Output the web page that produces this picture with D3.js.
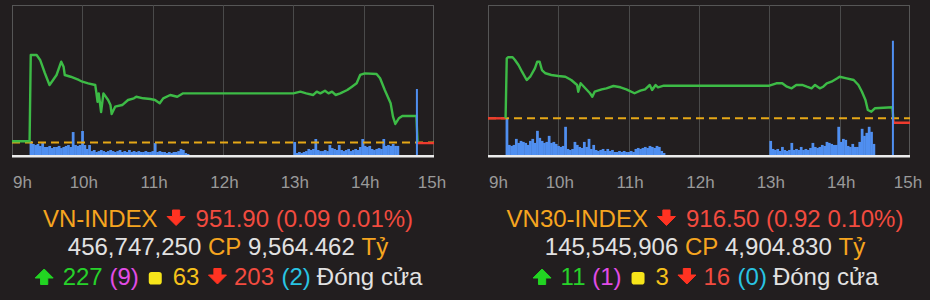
<!DOCTYPE html>
<html><head><meta charset="utf-8">
<script src="https://cdn.jsdelivr.net/npm/d3@7"></script>
<style>
html,body{margin:0;padding:0;background:#221e1f;}
svg{display:block;}
text{font-family:"Liberation Sans",Arial,Helvetica,sans-serif;}
</style></head><body>
<svg id="c" width="930" height="300"></svg>
<script>
// ---------- DATA ----------
const hourLabels = ["9h","10h","11h","12h","13h","14h","15h"];

// VN-INDEX intraday
const vnRef = 951.99;
const vnTimes = ["09:00","09:15","09:16","09:21","09:24","09:28","09:32","09:34","09:38","09:41","09:42","09:44","09:45","09:50","09:57","10:00","10:05","10:11","10:12","10:13","10:14","10:16","10:18","10:22","10:24","10:25","10:28","10:34","10:39","10:44","10:46","10:52","10:58","11:02","11:06","11:09","11:15","11:21","11:26","11:30","13:00","13:06","13:11","13:17","13:20","13:23","13:27","13:30","13:33","13:36","13:40","13:46","13:50","13:54","13:57","14:01","14:11","14:14","14:18","14:23","14:25","14:27","14:30","14:33","14:45","14:46","15:00"];
const vnValues = [952.15,952.15,963.58,963.58,962.92,961.19,959.60,960.04,960.93,962.25,962.69,962.03,960.93,960.70,960.27,960.04,959.83,959.60,958.54,957.39,958.50,956.03,958.50,957.62,956.95,955.76,956.73,956.95,957.62,957.84,958.05,957.84,957.75,957.62,957.18,957.84,958.28,958.05,958.50,958.50,958.50,958.72,958.50,958.28,958.72,958.50,958.85,958.50,958.72,958.28,958.50,958.94,959.38,959.83,960.93,961.15,961.06,960.49,958.94,957.18,955.41,954.44,955.19,955.50,955.50,951.90,951.90];
// volume, million shares per 2-minute bucket
const volStep = 2;
const volAMStart = "09:15";
const volPMStart = "13:00";
const closeVolTime = "14:45";
const vnVolAM = [9.3,7.3,6.6,7.3,6.0,7.9,5.3,5.3,6.0,4.6,5.3,5.3,6.0,4.6,5.3,6.0,6.6,5.3,15.2,6.6,6.0,6.6,15.9,6.6,4.0,6.6,2.6,3.3,2.0,2.6,3.3,2.6,2.0,2.6,3.3,2.6,2.0,2.6,3.3,2.0,2.6,2.0,3.3,2.0,2.6,2.0,2.6,2.0,2.0,2.6,2.0,2.0,2.6,7.9,2.0,2.6,2.0,2.0,1.3,2.0,1.3,2.0,2.0,2.6,4.0,3.3,1.3,0.7];
const vnVolPM = [8.6,1.3,2.0,1.3,2.0,2.6,4.0,3.3,4.0,10.6,3.3,2.6,2.6,3.3,2.6,6.6,4.6,4.0,3.3,6.6,3.3,2.6,3.3,4.0,2.6,3.3,4.0,3.3,5.3,10.6,6.0,5.3,6.0,4.0,3.3,4.0,4.6,4.0,10.6,6.0,6.6,6.0,7.3,6.0,6.0];
const vnVolClose = 43.7;

// VN30-INDEX intraday
const vn30Ref = 917.42;
const vn30Times = ["09:00","09:15","09:16","09:17","09:21","09:23","09:26","09:29","09:33","09:36","09:40","09:42","09:44","09:46","09:49","09:54","10:00","10:06","10:11","10:16","10:17","10:19","10:23","10:27","10:29","10:31","10:37","10:41","10:47","10:53","10:58","11:05","11:10","11:14","11:18","11:20","11:23","11:25","11:30","13:00","13:06","13:11","13:15","13:19","13:23","13:28","13:32","13:36","13:39","13:43","13:46","13:49","13:53","13:58","14:00","14:06","14:12","14:16","14:19","14:22","14:24","14:27","14:30","14:45","14:46","15:00"];
const vn30Values = [917.42,917.42,929.96,930.17,930.17,929.60,928.56,927.16,925.42,926.11,927.87,929.25,929.25,927.51,926.83,926.47,926.26,926.11,925.42,924.38,922.98,924.74,923.69,922.65,921.93,922.98,923.48,923.69,924.17,923.90,923.48,922.65,923.19,923.48,924.38,923.33,924.38,923.90,924.23,924.23,924.74,924.74,924.02,923.69,924.38,924.38,924.02,923.69,924.38,923.69,924.02,924.74,925.07,925.78,926.11,925.78,925.42,924.38,922.98,921.24,919.15,918.80,919.51,919.72,916.50,916.50];
const vn30VolAM = [7.2,2.0,1.8,2.0,3.2,2.4,2.8,2.6,2.4,2.0,2.8,3.2,2.4,4.8,3.4,2.8,2.4,2.6,3.8,2.4,2.6,2.2,1.8,1.6,1.8,5.6,1.2,1.0,1.2,2.6,2.0,1.6,1.4,2.6,1.6,3.2,1.2,2.0,1.0,0.8,1.0,1.2,0.8,1.2,0.8,1.0,0.6,0.6,0.8,0.6,0.8,0.6,0.6,0.8,0.6,1.2,1.4,1.2,1.4,1.6,1.4,1.8,1.6,1.4,1.8,1.6,0.8,0.4];
const vn30VolPM = [2.8,1.2,1.0,1.2,0.8,1.6,1.0,0.8,1.0,2.4,1.0,1.2,1.0,1.6,1.0,1.2,1.0,1.4,2.4,1.6,1.4,1.6,2.0,1.8,2.6,2.4,2.2,2.0,2.0,5.6,2.6,3.2,3.0,1.8,1.6,2.2,1.6,1.6,2.6,5.2,3.8,4.4,5.6,4.6,2.2];
const vn30VolClose = 22.7;

// summary text
const vnName = "VN-INDEX", vnClose = "951.90", vnChange = "0.09", vnPct = "0.01%";
const vnShares = "456,747,250", vnValueBn = "9,564.462";
const vnUp = "227", vnCeil = "9", vnFlat = "63", vnDown = "203", vnFloor = "2";
const vn30Name = "VN30-INDEX", vn30Close = "916.50", vn30Change = "0.92", vn30Pct = "0.10%";
const vn30Shares = "145,545,906", vn30ValueBn = "4,904.830";
const vn30Up = "11", vn30Ceil = "1", vn30Flat = "3", vn30Down = "16", vn30Floor = "0";
const unitShares = "CP", unitBn = "Tỷ", closedLabel = "Đóng cửa";

// ---------- DRAW ----------
const C = {
  bg:"#221e1f", frame:"#565656", grid:"#4a4a4a", axis:"#9a9a9a",
  green:"#3dbb46", red:"#ee3b2e", ref:"#e6a817", vol:"#508ff0", base:"#ececec",
  orange:"#f6a51f", txtRed:"#f24b3f", light:"#e2e2e2", brGreen:"#27d22a",
  magenta:"#e24ce6", yellow:"#f7e51a", gold:"#f7c21b", cyan:"#29c4e3", arrowRed:"#ff3322", arrowGreen:"#22d422"
};
const svg = d3.select("#c");
svg.append("rect").attr("width",930).attr("height",300).attr("fill",C.bg);
const toMin = s => { const [h,m] = s.split(":").map(Number); return (h-9)*60+m; };
const TOP = 5, BOT = 156;

function drawPanel(p){
  const g = svg.append("g");
  const x = d3.scaleLinear().domain([0,360]).range([p.x0,p.x1]);
  const y = d3.scaleLinear().domain(p.yDom).range([BOT,TOP]);
  const v = d3.scaleLinear().domain([0,p.volMax]).range([BOT-1, BOT-1-151]);

  // frame + grid
  g.append("rect").attr("x",p.x0+0.5).attr("y",TOP+0.5).attr("width",p.x1-p.x0-1).attr("height",BOT-TOP)
    .attr("fill","none").attr("stroke",C.frame).attr("stroke-width",1);
  g.selectAll("line.grid").data([60,120,180,240,300]).enter().append("line")
    .attr("x1",d=>Math.round(x(d))+0.5).attr("x2",d=>Math.round(x(d))+0.5)
    .attr("y1",TOP).attr("y2",BOT).attr("stroke",C.grid).attr("stroke-width",1);

  // volume
  const bars = [];
  p.volAM.forEach((val,i)=>bars.push({t:toMin(volAMStart)+volStep*i, val, w:volStep}));
  p.volPM.forEach((val,i)=>bars.push({t:toMin(volPMStart)+volStep*i, val, w:volStep}));
  g.selectAll("rect.vol").data(bars).enter().append("rect")
    .attr("x",d=>x(d.t)).attr("width",d=>x(d.t+d.w)-x(d.t)+0.4)
    .attr("y",d=>v(d.val)).attr("height",d=>v(0)-v(d.val)).attr("fill",C.vol);

  // reference dashed line
  g.append("line").attr("x1",p.x0).attr("x2",p.x1).attr("y1",y(p.ref)).attr("y2",y(p.ref))
    .attr("stroke",C.ref).attr("stroke-width",2).attr("stroke-dasharray","8,5");

  // price line, coloured vs reference
  const pts = p.times.map((t,i)=>({m:toMin(t), v:p.values[i]}));
  const segs = [];
  for(let i=0;i<pts.length-1;i++){
    const a=pts[i], b=pts[i+1];
    let parts=[[a,b]];
    if((a.v-p.ref)*(b.v-p.ref)<0){
      const k=(p.ref-a.v)/(b.v-a.v);
      const c={m:a.m+k*(b.m-a.m), v:p.ref};
      parts=[[a,c],[c,b]];
    }
    parts.forEach(([s,e])=>{
      const up=(s.v+e.v)/2>p.ref;
      const last=segs[segs.length-1];
      if(last && last.up===up) last.pts.push(e); else segs.push({up, pts:[s,e]});
    });
  }
  const line = d3.line().x(d=>x(d.m)).y(d=>y(d.v));
  g.selectAll("path.price").data(segs).enter().append("path")
    .attr("d",d=>line(d.pts)).attr("fill","none")
    .attr("stroke",d=>d.up?C.green:C.red).attr("stroke-width",2.4).attr("stroke-linejoin","round");

  // ATC volume spike
  const tc = toMin(closeVolTime);
  g.append("rect").attr("x",x(tc)-0.5).attr("width",2).attr("y",v(p.volClose))
    .attr("height",v(0)-v(p.volClose)).attr("fill",C.vol);

  // baseline
  g.append("line").attr("x1",p.x0).attr("x2",p.x1).attr("y1",BOT+0.3).attr("y2",BOT+0.3)
    .attr("stroke",C.base).attr("stroke-width",2.4);

  // axis
  const ax = d3.axisBottom(x).tickValues([0,60,120,180,240,300,360])
    .tickFormat((d,i)=>hourLabels[i]).tickSize(0).tickPadding(0);
  const ag = g.append("g").attr("transform","translate(0,188)").call(ax);
  ag.select(".domain").remove();
  ag.attr("font-family",null).attr("font-size",null);
  ag.selectAll("text").attr("y",0).attr("dy",null).attr("fill",C.axis)
    .style("font-size","17px")
    .attr("dx",(d,i)=> i===6 ? -2.5 : (i===0 ? 0.5 : 1))
    .attr("text-anchor",(d,i)=> i===0 ? "start" : "middle");

  // summary rows
  const FS = 24;
  function row(baseline, items){
    const grp = svg.append("g");
    let cx = 0;
    items.forEach(it=>{
      if(it.gap!==undefined){ cx += it.gap; return; }
      if(it.text!==undefined){
        const t = grp.append("text").attr("x",cx).attr("y",baseline).attr("fill",it.color)
          .style("font-size",FS+"px").text(it.text);
        cx += t.node().getComputedTextLength();
        return;
      }
      const bw = it.icon==="sq" ? 15 : 21;
      const mid = cx + bw/2;
      if(it.icon==="down"){
        const tp = baseline-16.5;
        grp.append("path").attr("fill",it.color).attr("stroke",it.color).attr("stroke-width",1).attr("stroke-linejoin","round")
          .attr("d",`M${mid-3.6},${tp}L${mid+3.6},${tp}L${mid+3.6},${tp+6.5}L${mid+9},${tp+6.5}L${mid},${tp+15.5}L${mid-9},${tp+6.5}L${mid-3.6},${tp+6.5}Z`);
      } else if(it.icon==="up"){
        const tp = baseline-16;
        grp.append("path").attr("fill",it.color).attr("stroke",it.color).attr("stroke-width",1).attr("stroke-linejoin","round")
          .attr("d",`M${mid},${tp}L${mid+9},${tp+9}L${mid+3.6},${tp+9}L${mid+3.6},${tp+15.5}L${mid-3.6},${tp+15.5}L${mid-3.6},${tp+9}L${mid-9},${tp+9}Z`);
      } else {
        grp.append("rect").attr("x",mid-6.5).attr("y",baseline-13).attr("width",13).attr("height",12.5)
          .attr("rx",2.8).attr("fill",it.color);
      }
      cx += bw;
    });
    grp.attr("transform",`translate(${p.cx - cx/2},0)`);
  }
  const s = p.summary;
  row(226.5, [
    {text:s.name,color:C.orange},{gap:8},{icon:"down",color:C.arrowRed},{gap:9},
    {text:`${s.close} (${s.change} ${s.pct})`,color:C.txtRed}
  ]);
  row(255, [
    {text:s.shares,color:C.light},{gap:6.7},{text:unitShares,color:C.orange},{gap:6.7},
    {text:s.valueBn,color:C.light},{gap:6.7},{text:unitBn,color:C.orange}
  ]);
  row(285, [
    {icon:"up",color:C.arrowGreen},{gap:8},{text:s.up,color:C.brGreen},{gap:6.7},
    {text:`(${s.ceil})`,color:C.magenta},{gap:9},{icon:"sq",color:C.yellow},{gap:10},
    {text:s.flat,color:C.gold},{gap:7.5},{icon:"down",color:C.arrowRed},{gap:6},
    {text:s.down,color:C.txtRed},{gap:7.5},{text:`(${s.floor})`,color:C.cyan},{gap:6},
    {text:closedLabel,color:C.light}
  ]);
}

drawPanel({x0:12, x1:434, cx:228, times:vnTimes, values:vnValues, ref:vnRef, yDom:[950.2,970.2],
  volMax:100, volAM:vnVolAM, volPM:vnVolPM, volClose:vnVolClose,
  summary:{name:vnName, close:vnClose, change:vnChange, pct:vnPct, shares:vnShares, valueBn:vnValueBn,
    up:vnUp, ceil:vnCeil, flat:vnFlat, down:vnDown, floor:vnFloor}});
drawPanel({x0:488, x1:910, cx:705, times:vn30Times, values:vn30Values, ref:vn30Ref, yDom:[909.54,941.1],
  volMax:30, volAM:vn30VolAM, volPM:vn30VolPM, volClose:vn30VolClose,
  summary:{name:vn30Name, close:vn30Close, change:vn30Change, pct:vn30Pct, shares:vn30Shares, valueBn:vn30ValueBn,
    up:vn30Up, ceil:vn30Ceil, flat:vn30Flat, down:vn30Down, floor:vn30Floor}});
</script>
</body></html>
